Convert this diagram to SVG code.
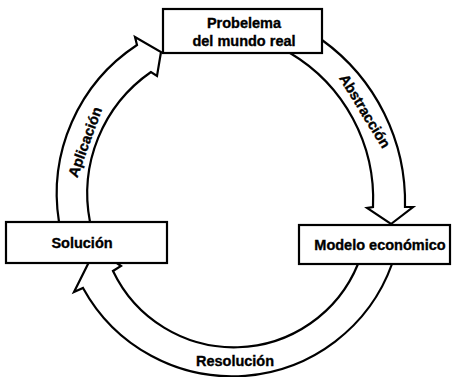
<svg xmlns="http://www.w3.org/2000/svg" width="452" height="377" viewBox="0 0 452 377">
<style>
.arrow{fill:#fff;stroke:#000;stroke-width:2.2;stroke-linejoin:miter}
.box{fill:#fff;stroke:#000;stroke-width:2.2}
.t{font-family:"Liberation Sans",Arial,sans-serif;font-weight:bold;font-size:14.5px;fill:#000;stroke:#000;stroke-width:0.35;text-anchor:middle}
</style>
<rect width="452" height="377" fill="#fff"/>
<g id="connectors">
<g id="aplicacion">
<path class="arrow" d="M59 222 A178 178 0 0 1 137 45 L135 37 L161 52 L157 76 L151 72 A148 148 0 0 0 90 222 Z"/>
<text class="t" transform="translate(85,142) rotate(-70)" y="5">Aplicación</text>
</g>
<g id="abstraccion">
<path class="arrow" d="M322 40 A200 200 0 0 1 405 207 L413 207 L391 224 L367 208 L373 207 A170 170 0 0 0 290 53 Z"/>
<text class="t" transform="translate(365,111) rotate(58.5)" y="5">Abstracción</text>
</g>
<g id="resolucion">
<path class="arrow" d="M392 264 A170 170 0 0 1 83 288 L74 292 L96 248 L121 266 L113 271 A134 134 0 0 0 358 264 Z"/>
<text class="t" x="235" y="366">Resolución</text>
</g>
</g>
<g id="problema">
<rect class="box" x="163" y="9" width="159" height="44"/>
<text class="t" x="244" y="28">Probelema</text>
<text class="t" x="244" y="45.5">del mundo real</text>
</g>
<g id="modelo">
<rect class="box" x="299" y="225" width="151" height="39"/>
<text class="t" x="380" y="250">Modelo económico</text>
</g>
<g id="solucion">
<rect class="box" x="6" y="222" width="161" height="41"/>
<text class="t" x="82" y="248">Solución</text>
</g>
</svg>
